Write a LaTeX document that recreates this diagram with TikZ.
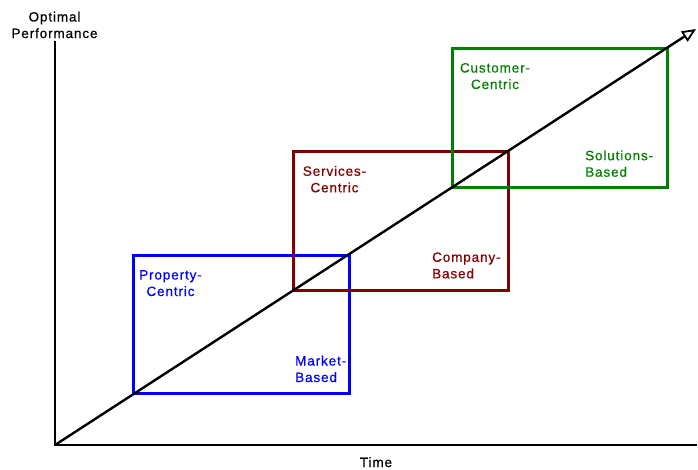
\documentclass[tikz,border=0pt]{standalone}
\usepackage{fontspec}
\setmainfont{Liberation Sans}[LetterSpace=6.5,FakeBold=0.6]
\usetikzlibrary{arrows.meta}
\definecolor{phaseblue}{HTML}{0000FF}
\definecolor{phasered}{HTML}{800000}
\definecolor{phasegreen}{HTML}{008000}
\begin{document}
\begin{tikzpicture}[x=1pt,y=-1pt,
  axis/.style={line width=2.4pt,black},
  phase/.style={line width=3pt},
  lbl/.style={font=\fontsize{13.5}{16.5}\selectfont,inner sep=0pt,anchor=base},
  lblc/.style={lbl,align=center},
  lbll/.style={lbl,align=left,anchor=base west}]
\useasboundingbox (0,0) rectangle (698,469);
% axes
\coordinate (O) at (55,445);
\coordinate (ytop) at (55,41);
\coordinate (xend) at (697,445);
\draw[axis] (ytop) -- (O) -- (xend);
% phase boxes
\draw[phase,phaseblue] (133,255) rectangle (349,393);
\draw[phase,phasered] (293,151) rectangle (508,290);
\draw[phase,phasegreen] (452,48) rectangle (667,187);
% growth line
\coordinate (tip) at (696,29);
\draw[line width=2.4pt,-{Triangle[open,length=14pt,width=12pt,line width=1.8pt]}] (O) -- (tip);
% axis titles (anchored at the baseline of the last line)
\node[lblc] (ylab) at (54.5,38) {Optimal\\Performance};
\node[lbl] (xlab) at (376,467) {Time};
% box captions
\node[lblc,phaseblue] (p1) at (170.5,296) {Property-\\Centric};
\node[lbll,phaseblue] (p2) at (295,382) {Market-\\Based};
\node[lblc,phasered] (s1) at (334.5,192.3) {Services-\\Centric};
\node[lbll,phasered] (s2) at (432,278.3) {Company-\\Based};
\node[lblc,phasegreen] (c1) at (495,89) {Customer-\\Centric};
\node[lbll,phasegreen] (c2) at (585,176.7) {Solutions-\\Based};
\end{tikzpicture}
\end{document}
